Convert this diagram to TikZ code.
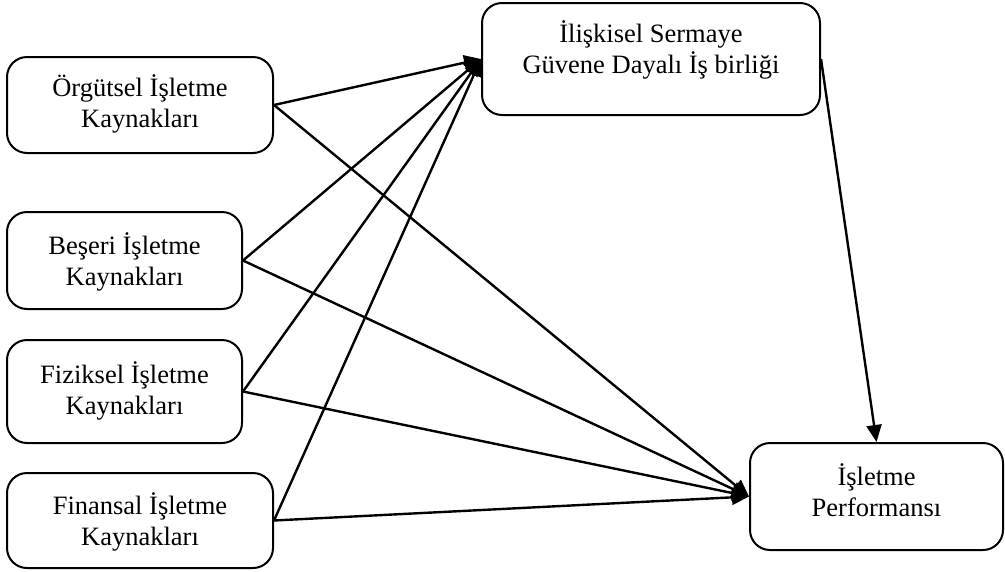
\documentclass[tikz,border=0pt]{standalone}
\usepackage{fontspec}
\setmainfont{Liberation Serif}
\usetikzlibrary{arrows.meta}
\begin{document}
\begin{tikzpicture}[x=1pt,y=-1pt,
  box/.style={draw,line width=2pt,rounded corners=20pt,inner sep=0pt},
  lbl/.style={align=center,inner sep=0pt,font=\fontsize{26.5}{31.5}\selectfont},
  arr/.style={line width=2.4pt,-{Triangle[length=17pt,width=15pt]}}]
\useasboundingbox (0,0) rectangle (1005,571);
\node[box,minimum width=266pt,minimum height=96pt] (b1) at (140,105) {};
\node[box,minimum width=235pt,minimum height=97pt] (b2) at (124.5,260.5) {};
\node[box,minimum width=235pt,minimum height=103pt] (b3) at (124.5,391.5) {};
\node[box,minimum width=266pt,minimum height=95pt] (b4) at (140,520.5) {};
\node[box,minimum width=338pt,minimum height=112pt] (t) at (651,59) {};
\node[box,minimum width=253pt,minimum height=107pt] (p) at (876.5,496.5) {};
\node[lbl] (l1) at (140,104) {Örgütsel İşletme\\Kaynakları};
\node[lbl] (l2) at (124.5,262) {Beşeri İşletme\\Kaynakları};
\node[lbl] (l3) at (124.5,391) {Fiziksel İşletme\\Kaynakları};
\node[lbl] (l4) at (140,522) {Finansal İşletme\\Kaynakları};
\node[lbl] (lt) at (651,50) {İlişkisel Sermaye\\Güvene Dayalı İş birliği};
\node[lbl] (lp) at (876.5,490) {İşletme\\Performansı};
\foreach \s in {b1,b2,b3,b4}{
  \draw[arr] (\s.east) -- (t.west);
  \draw[arr] (\s.east) -- (p.west);
}
\draw[arr] (t.east) -- (p.north);
\end{tikzpicture}
\end{document}
